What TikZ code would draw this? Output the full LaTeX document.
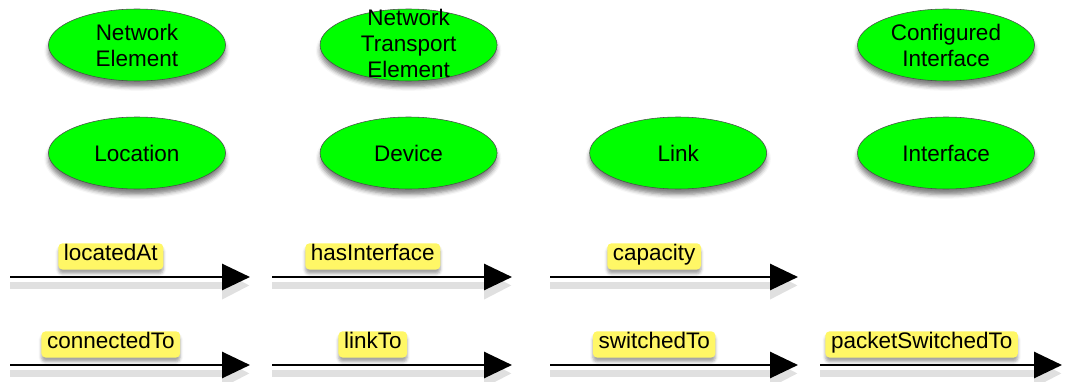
\documentclass[tikz,border=0pt]{standalone}
\usepackage{fontspec}
\setmainfont{Liberation Sans}
\usetikzlibrary{positioning,shapes.geometric,arrows.meta,shadows.blur}
\tikzset{%
  concept/.style={ellipse,draw=black!70,fill=green,minimum width=4.425cm,minimum height=1.8cm,
    inner sep=0pt,align=center,
    blur shadow={shadow xshift=0pt,shadow yshift=-4pt,shadow blur radius=3pt,shadow opacity=50}},
  rel/.style={line width=2pt,-{Triangle[length=0.7cm,width=0.65cm]},
    preaction={draw=black!12,line width=5pt,transform canvas={yshift=-6pt}}},
  prop/.style={fill=yellow!60,rounded corners=3pt,inner xsep=4pt,inner ysep=4.5pt,
    text height=0.75em,text depth=0.22em,pos=0.42,above=0.15cm,
    blur shadow={shadow xshift=0pt,shadow yshift=-3pt,shadow blur radius=2pt,shadow opacity=35}}
}

\begin{document}
\begin{tikzpicture}[font=\fontsize{16}{18.5}\selectfont]
  \useasboundingbox (0,0) rectangle (26.625,-9.525);

  \node[concept] (ne) at (3.425,-1.125) {Network\\Element};
  \node[concept,right=2.35cm of ne] (nte)
    {\raisebox{-5pt}[0pt][0pt]{\begin{tabular}{@{}c@{}}Network\\Transport\\Element\end{tabular}}};
  \node[concept] (cfi) at (23.65,-1.125) {Configured\\Interface};

  \node[concept] (loc) at (3.425,-3.825) {Location};
  \node[concept,right=2.35cm of loc] (dev) {Device};
  \node[concept,right=2.3cm of dev] (lnk) {Link};
  \node[concept] (ifc) at (23.65,-3.825) {Interface};

  \coordinate (a1) at (0.25,-6.925);  \coordinate (a2) at (6.25,-6.925);
  \coordinate (b1) at (6.8,-6.925);   \coordinate (b2) at (12.8,-6.925);
  \coordinate (c1) at (13.75,-6.925); \coordinate (c2) at (19.95,-6.925);

  \coordinate (d1) at (0.25,-9.125);  \coordinate (d2) at (6.25,-9.125);
  \coordinate (e1) at (6.8,-9.125);   \coordinate (e2) at (12.8,-9.125);
  \coordinate (f1) at (13.75,-9.125); \coordinate (f2) at (19.95,-9.125);
  \coordinate (g1) at (20.5,-9.125);  \coordinate (g2) at (26.55,-9.125);

  \draw[rel] (a1) -- node[prop] (locatedAt) {locatedAt} (a2);
  \draw[rel] (b1) -- node[prop] (hasInterface) {hasInterface} (b2);
  \draw[rel] (c1) -- node[prop] (capacity) {capacity} (c2);

  \draw[rel] (d1) -- node[prop] (connectedTo) {connectedTo} (d2);
  \draw[rel] (e1) -- node[prop] (linkTo) {linkTo} (e2);
  \draw[rel] (f1) -- node[prop] (switchedTo) {switchedTo} (f2);
  \draw[rel] (g1) -- node[prop] (packetSwitchedTo) {packetSwitchedTo} (g2);
\end{tikzpicture}
\end{document}
